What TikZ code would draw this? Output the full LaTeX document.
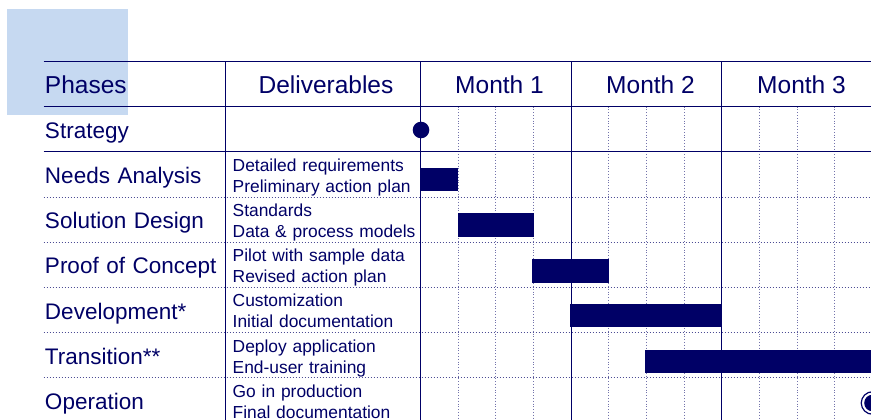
\documentclass[tikz,border=0pt]{standalone}
\usepackage{fontspec}
\setmainfont{Liberation Sans}
\usetikzlibrary{positioning}
\definecolor{navy}{HTML}{000066}
\definecolor{paleblue}{HTML}{C6D9F1}
\tikzstyle{head} = [inner sep=0pt, text height=18pt, text depth=5pt, font=\fontsize{24.5}{28}\selectfont, text=navy]
\tikzstyle{phase} = [inner sep=0pt, text width=175pt, align=left, text height=16pt, text depth=5pt, font=\fontsize{22.5}{26}\selectfont, text=navy]
\tikzstyle{deliv} = [inner sep=0pt, text width=185pt, align=left, font=\fontsize{17.4}{21}\selectfont, text=navy]
\tikzstyle{rule} = [draw=navy, line width=1.2pt]
\tikzstyle{rowline} = [draw=navy!70, line width=1pt, dotted]
\tikzstyle{weekline} = [draw=navy!55, line width=0.8pt, dotted]
\tikzstyle{bar} = [fill=navy]
\tikzstyle{milestone} = [circle, fill=navy, inner sep=0pt, minimum size=16.6pt]

\begin{document}
\begin{tikzpicture}[x=1pt, y=-1pt, node distance=45.15pt]
\useasboundingbox (0,0) rectangle (871,420);

\fill [paleblue] (7,9) rectangle (128,115);

%% week lines
\draw [weekline] (458.2,106.7) -- (458.2,425);
\draw [weekline] (495.8,106.7) -- (495.8,425);
\draw [weekline] (533.5,106.7) -- (533.5,425);
\draw [weekline] (608.8,106.7) -- (608.8,425);
\draw [weekline] (646.5,106.7) -- (646.5,425);
\draw [weekline] (684.2,106.7) -- (684.2,425);
\draw [weekline] (759.5,106.7) -- (759.5,425);
\draw [weekline] (797.2,106.7) -- (797.2,425);
\draw [weekline] (834.8,106.7) -- (834.8,425);

%% row lines
\draw [rowline] (43.5,197) -- (875,197);
\draw [rowline] (43.5,242.15) -- (875,242.15);
\draw [rowline] (43.5,287.3) -- (875,287.3);
\draw [rowline] (43.5,332.45) -- (875,332.45);
\draw [rowline] (43.5,377.6) -- (875,377.6);

%% frame
\draw [rule] (43.5,61.7) -- (875,61.7);
\draw [rule] (43.5,106.7) -- (875,106.7);
\draw [rule] (43.5,151.85) -- (875,151.85);
\draw [rule] (225.3,61.7) -- (225.3,425);
\draw [rule] (420.7,61.7) -- (420.7,425);
\draw [rule] (571.2,61.7) -- (571.2,425);
\draw [rule] (721.8,61.7) -- (721.8,425);

%% bars
\fill [bar] (420.5,168) rectangle (458.2,191);
\fill [bar] (457.8,213.3) rectangle (534,236.7);
\fill [bar] (532,259.3) rectangle (608.5,282.7);
\fill [bar] (569.7,304) rectangle (721.8,327.3);
\fill [bar] (645.3,349.7) rectangle (880,373);

%% milestones
\node (start) [milestone] at (421,130) {};
\node (golive) [circle, draw=navy, line width=1.2pt, fill=white, inner sep=0pt, minimum size=22.5pt] at (872.5,403) {};
\node (golivedot) [milestone] at (golive) {};

%% header
\node (hphase) [head, anchor=west] at (44.8,87) {Phases};
\node (hdeliv) [head] at (326,87) {Deliverables};
\node (hm1) [head] at (499.5,87) {Month 1};
\node (hm2) [head] at (650.5,87) {Month 2};
\node (hm3) [head] at (801.5,87) {Month 3};

%% phases
\node (strategy) [phase] at (132.5,133) {Strategy};
\node (needs) [phase, below of=strategy] {Needs Analysis};
\node (design) [phase, below of=needs] {Solution Design};
\node (proof) [phase, below of=design] {Proof of Concept};
\node (develop) [phase, below of=proof] {Development*};
\node (trans) [phase, below of=develop] {Transition**};
\node (oper) [phase, below of=trans] {Operation};

%% deliverables
\node (dneeds) [deliv] at (325.2,177.8) {\strut Detailed requirements\\\strut Preliminary action plan};
\node (ddesign) [deliv, below of=dneeds] {\strut Standards\\\strut Data \& process models};
\node (dproof) [deliv, below of=ddesign] {\strut Pilot with sample data\\\strut Revised action plan};
\node (ddevelop) [deliv, below of=dproof] {\strut Customization\\\strut Initial documentation};
\node (dtrans) [deliv, below of=ddevelop] {\strut Deploy application\\\strut End-user training};
\node (doper) [deliv, below of=dtrans] {\strut Go in production\\\strut Final documentation};

\end{tikzpicture}
\end{document}
